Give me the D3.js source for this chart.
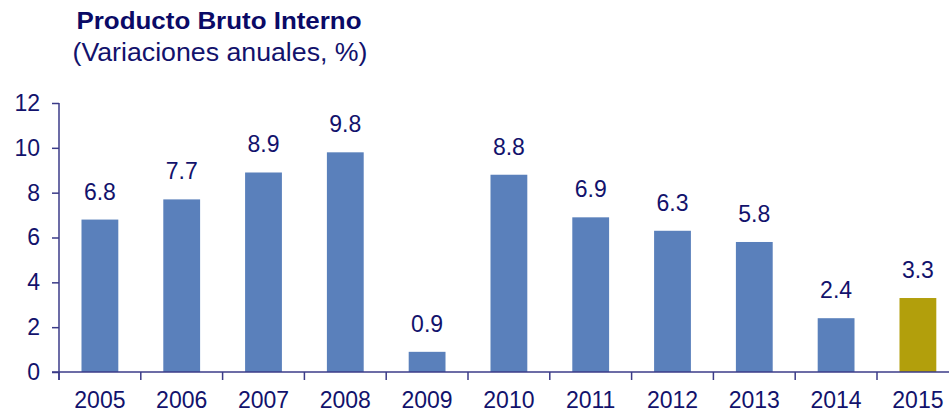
<!DOCTYPE html>
<html><head><meta charset="utf-8">
<script src="https://cdn.jsdelivr.net/npm/d3@7"></script>
<style>
body{margin:0;background:#fff;}
svg{display:block;font-family:"Liberation Sans",Arial,sans-serif;}
</style></head>
<body><svg id="c" width="949" height="413"></svg>
<script>
const categories = ["2005","2006","2007","2008","2009","2010","2011","2012","2013","2014","2015"];
const values = [6.8, 7.7, 8.9, 9.8, 0.9, 8.8, 6.9, 6.3, 5.8, 2.4, 3.3];
const labels = ["6.8","7.7","8.9","9.8","0.9","8.8","6.9","6.3","5.8","2.4","3.3"];
const yTicks = [0, 2, 4, 6, 8, 10, 12];
const highlight = ["2015"];

const svg = d3.select("#c");
const textColor = "#12126c", axisColor = "#3b3b88";
const x0 = 59, step = 81.8;
const x = d3.scaleBand().domain(categories).range([x0, x0 + step * categories.length]).padding(0);
const y = d3.scaleLinear().domain([0, 12]).range([372, 103]);
const barW = x.bandwidth() * 0.45;

// title
svg.append("text").attr("x", 219).attr("y", 29).attr("text-anchor", "middle")
  .attr("font-weight", "bold").attr("font-size", 23.5).attr("fill", "#0a0a66")
  .attr("textLength", 285).attr("lengthAdjust", "spacingAndGlyphs")
  .text("Producto Bruto Interno");
svg.append("text").attr("x", 220).attr("y", 61).attr("text-anchor", "middle")
  .attr("font-size", 25).attr("fill", textColor)
  .attr("textLength", 295).attr("lengthAdjust", "spacingAndGlyphs")
  .text("(Variaciones anuales, %)");

// bars
svg.selectAll("rect.bar").data(categories).enter().append("rect")
  .attr("x", (d) => x(d) + (x.bandwidth() - barW) / 2)
  .attr("y", (d, i) => y(values[i]))
  .attr("width", barW)
  .attr("height", (d, i) => y(0) - y(values[i]))
  .attr("fill", d => highlight.includes(d) ? "#b29f0c" : "#5a80bb");

// value labels
svg.selectAll("text.val").data(categories).enter().append("text")
  .attr("x", d => x(d) + x.bandwidth() / 2)
  .attr("y", (d, i) => y(values[i]) - 20)
  .attr("text-anchor", "middle").attr("font-size", 23).attr("fill", textColor)
  .text((d, i) => labels[i]);

// y axis
const yAxis = d3.axisLeft(y).tickValues(yTicks).tickSize(7).tickPadding(12);
const gy = svg.append("g").attr("transform", `translate(${x0},0)`).call(yAxis);
gy.select(".domain").remove();
gy.selectAll(".tick line").attr("stroke", axisColor).attr("stroke-width", 1.5);
gy.selectAll(".tick text").attr("font-size", 23).attr("fill", textColor)
  .attr("font-family", "Liberation Sans, Arial, sans-serif");
svg.append("line").attr("x1", x0).attr("x2", x0).attr("y1", y(12)).attr("y2", y(0) + 8)
  .attr("stroke", axisColor).attr("stroke-width", 1.5);

// x axis
svg.append("line").attr("x1", x0 - 7).attr("x2", 949).attr("y1", y(0)).attr("y2", y(0))
  .attr("stroke", axisColor).attr("stroke-width", 1.5);
svg.selectAll("line.xt").data(categories).enter().append("line")
  .attr("x1", d => x(d)).attr("x2", d => x(d))
  .attr("y1", y(0)).attr("y2", y(0) + 8)
  .attr("stroke", axisColor).attr("stroke-width", 1.5);
svg.selectAll("text.cat").data(categories).enter().append("text")
  .attr("x", d => x(d) + x.bandwidth() / 2)
  .attr("y", 408)
  .attr("text-anchor", "middle").attr("font-size", 23).attr("fill", textColor)
  .text(d => d);
</script></body></html>
